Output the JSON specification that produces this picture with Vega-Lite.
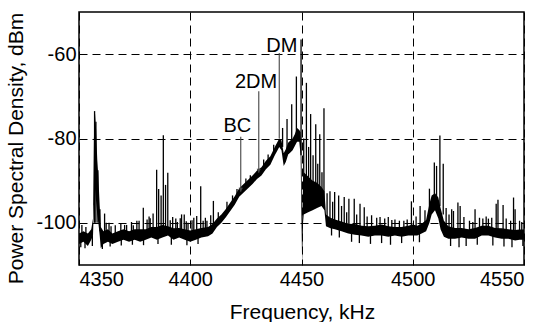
{
  "$schema": "https://vega.github.io/schema/vega-lite/v6.json",
  "width": 445,
  "height": 253,
  "autosize": {"type": "none"},
  "padding": {"left": 79, "top": 12, "right": 26, "bottom": 57},
  "background": "white",
  "config": {
    "font": "Liberation Sans",
    "view": {"stroke": "black", "strokeWidth": 1.5},
    "axis": {
      "grid": true,
      "gridColor": "black",
      "gridDash": [8, 5],
      "gridWidth": 1,
      "gridOpacity": 1,
      "domain": false,
      "ticks": false,
      "labelFont": "Liberation Sans",
      "labelFontSize": 20,
      "labelColor": "black",
      "labelExpr": "'' + datum.value",
      "titleFont": "Liberation Sans",
      "titleFontSize": 21,
      "titleFontWeight": "normal",
      "titleColor": "black"
    }
  },
  "datasets": {
    "band": [
      {"f": 4350, "lo": -105, "hi": -102.5},
      {"f": 4352, "lo": -104.5, "hi": -102},
      {"f": 4354, "lo": -105.5, "hi": -102.5},
      {"f": 4355.5, "lo": -104, "hi": -101.5},
      {"f": 4356.3, "lo": -103, "hi": -99},
      {"f": 4356.7, "lo": -96, "hi": -80},
      {"f": 4357.2, "lo": -92, "hi": -74},
      {"f": 4357.7, "lo": -95, "hi": -78},
      {"f": 4358.2, "lo": -98, "hi": -85},
      {"f": 4358.7, "lo": -100, "hi": -89},
      {"f": 4359.3, "lo": -103, "hi": -96},
      {"f": 4359.8, "lo": -106, "hi": -101},
      {"f": 4361, "lo": -105, "hi": -102},
      {"f": 4363, "lo": -104.5, "hi": -101.5},
      {"f": 4365, "lo": -105, "hi": -102.5},
      {"f": 4367.5, "lo": -104.5, "hi": -102},
      {"f": 4370, "lo": -104, "hi": -101.5},
      {"f": 4372.5, "lo": -104.5, "hi": -102},
      {"f": 4375, "lo": -104, "hi": -101.5},
      {"f": 4377.5, "lo": -104.5, "hi": -101.5},
      {"f": 4380, "lo": -104, "hi": -101.5},
      {"f": 4382.5, "lo": -103.5, "hi": -101},
      {"f": 4385, "lo": -104, "hi": -101},
      {"f": 4387.5, "lo": -103.5, "hi": -100.5},
      {"f": 4390, "lo": -103, "hi": -100.8},
      {"f": 4392.5, "lo": -104, "hi": -101.3},
      {"f": 4395, "lo": -103.5, "hi": -101.2},
      {"f": 4397.5, "lo": -104, "hi": -101.5},
      {"f": 4400, "lo": -104.5, "hi": -101.8},
      {"f": 4402.5, "lo": -104, "hi": -101.5},
      {"f": 4405, "lo": -103.5, "hi": -101.2},
      {"f": 4408, "lo": -103.2, "hi": -101},
      {"f": 4410, "lo": -102.5, "hi": -100.3},
      {"f": 4412, "lo": -101, "hi": -99},
      {"f": 4414, "lo": -100, "hi": -98},
      {"f": 4416, "lo": -98.7, "hi": -96.7},
      {"f": 4418, "lo": -97.2, "hi": -95.2},
      {"f": 4420, "lo": -95.7, "hi": -93.7},
      {"f": 4422, "lo": -93.8, "hi": -91.8},
      {"f": 4424, "lo": -92.8, "hi": -90.8},
      {"f": 4426, "lo": -91.8, "hi": -89.8},
      {"f": 4428, "lo": -90.8, "hi": -88.8},
      {"f": 4430, "lo": -89.6, "hi": -87.6},
      {"f": 4432, "lo": -88.8, "hi": -86.8},
      {"f": 4434, "lo": -87.3, "hi": -85.3},
      {"f": 4436, "lo": -86.2, "hi": -84.2},
      {"f": 4438, "lo": -84, "hi": -82},
      {"f": 4439, "lo": -83, "hi": -81},
      {"f": 4440, "lo": -82, "hi": -80},
      {"f": 4441, "lo": -82.8, "hi": -80.5},
      {"f": 4442, "lo": -86.5, "hi": -83.5},
      {"f": 4443, "lo": -85.5, "hi": -82.5},
      {"f": 4444, "lo": -83.8, "hi": -81},
      {"f": 4445, "lo": -83.3, "hi": -80.5},
      {"f": 4446, "lo": -82.8, "hi": -80},
      {"f": 4447, "lo": -81.8, "hi": -79},
      {"f": 4448, "lo": -80.8, "hi": -77.5},
      {"f": 4449, "lo": -80.8, "hi": -78},
      {"f": 4449.6, "lo": -84, "hi": -78.5},
      {"f": 4450, "lo": -100, "hi": -85},
      {"f": 4450.3, "lo": -110, "hi": -100},
      {"f": 4450.7, "lo": -100, "hi": -90},
      {"f": 4451, "lo": -98, "hi": -88},
      {"f": 4453, "lo": -97.5, "hi": -89},
      {"f": 4455, "lo": -97, "hi": -90},
      {"f": 4457, "lo": -96.5, "hi": -90.5},
      {"f": 4459, "lo": -96, "hi": -91.5},
      {"f": 4460.3, "lo": -97, "hi": -92.5},
      {"f": 4461, "lo": -100.8, "hi": -98},
      {"f": 4463, "lo": -101.3, "hi": -98.8},
      {"f": 4465, "lo": -101.5, "hi": -99.2},
      {"f": 4468, "lo": -102, "hi": -99.7},
      {"f": 4471, "lo": -102.5, "hi": -100.2},
      {"f": 4474, "lo": -102.8, "hi": -100.3},
      {"f": 4477, "lo": -103, "hi": -100.7},
      {"f": 4480, "lo": -103.3, "hi": -100.8},
      {"f": 4483, "lo": -103, "hi": -100.7},
      {"f": 4486, "lo": -103, "hi": -100.4},
      {"f": 4489, "lo": -103.3, "hi": -100.8},
      {"f": 4492, "lo": -103, "hi": -101},
      {"f": 4495, "lo": -103.3, "hi": -101},
      {"f": 4498, "lo": -103, "hi": -100.7},
      {"f": 4500, "lo": -103, "hi": -100.4},
      {"f": 4502, "lo": -103, "hi": -100.7},
      {"f": 4504, "lo": -102.5, "hi": -100.2},
      {"f": 4506, "lo": -102, "hi": -99.3},
      {"f": 4507.5, "lo": -100, "hi": -95.5},
      {"f": 4508.5, "lo": -98, "hi": -93.5},
      {"f": 4510, "lo": -97, "hi": -93},
      {"f": 4511.5, "lo": -99, "hi": -94},
      {"f": 4512.5, "lo": -101.5, "hi": -96.5},
      {"f": 4514, "lo": -103.3, "hi": -99.5},
      {"f": 4516, "lo": -103.8, "hi": -100.8},
      {"f": 4519, "lo": -103.8, "hi": -101.2},
      {"f": 4522, "lo": -103.5, "hi": -101.2},
      {"f": 4525, "lo": -103.8, "hi": -101.5},
      {"f": 4528, "lo": -103.8, "hi": -101.2},
      {"f": 4531, "lo": -103, "hi": -100.7},
      {"f": 4534, "lo": -103, "hi": -100.7},
      {"f": 4537, "lo": -103.5, "hi": -101.2},
      {"f": 4540, "lo": -103.8, "hi": -101.3},
      {"f": 4543, "lo": -103.8, "hi": -101.5},
      {"f": 4546, "lo": -104.2, "hi": -101.7},
      {"f": 4548, "lo": -104, "hi": -101.6},
      {"f": 4550, "lo": -104, "hi": -101.6}
    ],
    "spikes": [
      {"f": 4357.0, "lo": -100, "hi": -73.5},
      {"f": 4357.6, "lo": -100, "hi": -76},
      {"f": 4358.5, "lo": -100, "hi": -87.5},
      {"f": 4359.4, "lo": -102, "hi": -96.8},
      {"f": 4361.5, "lo": -103, "hi": -97.8},
      {"f": 4363.5, "lo": -103, "hi": -100},
      {"f": 4370.5, "lo": -103, "hi": -100.5},
      {"f": 4376, "lo": -103, "hi": -99.5},
      {"f": 4378.9, "lo": -102.5, "hi": -96.4},
      {"f": 4381.5, "lo": -102.5, "hi": -98.5},
      {"f": 4383.3, "lo": -102.5, "hi": -97.8},
      {"f": 4384.9, "lo": -102, "hi": -87.4},
      {"f": 4385.8, "lo": -102, "hi": -92},
      {"f": 4386.9, "lo": -102, "hi": -93.5},
      {"f": 4387.9, "lo": -102, "hi": -79.2},
      {"f": 4388.9, "lo": -102, "hi": -91},
      {"f": 4389.9, "lo": -102, "hi": -88.1},
      {"f": 4392.1, "lo": -102, "hi": -98.6},
      {"f": 4393.5, "lo": -102, "hi": -99},
      {"f": 4396.1, "lo": -102.5, "hi": -98},
      {"f": 4397.3, "lo": -102.5, "hi": -98},
      {"f": 4399, "lo": -103, "hi": -100},
      {"f": 4402.9, "lo": -102.5, "hi": -98.4},
      {"f": 4404.7, "lo": -102.5, "hi": -91.3},
      {"f": 4407.5, "lo": -102, "hi": -99.5},
      {"f": 4410.4, "lo": -101.5, "hi": -94.8},
      {"f": 4412.6, "lo": -100, "hi": -97.5},
      {"f": 4441.5, "lo": -82, "hi": -77.5},
      {"f": 4443.5, "lo": -84, "hi": -75.4},
      {"f": 4445.6, "lo": -82, "hi": -71.9},
      {"f": 4447.7, "lo": -80, "hi": -65.3},
      {"f": 4449.8, "lo": -84, "hi": -56.5},
      {"f": 4451, "lo": -95, "hi": -80},
      {"f": 4452.2, "lo": -93, "hi": -66.8},
      {"f": 4453.2, "lo": -93, "hi": -82},
      {"f": 4454.1, "lo": -93, "hi": -74.2},
      {"f": 4455.2, "lo": -93, "hi": -84},
      {"f": 4456.4, "lo": -93, "hi": -76.6},
      {"f": 4457.3, "lo": -93, "hi": -86},
      {"f": 4458.2, "lo": -93, "hi": -79},
      {"f": 4459.2, "lo": -93, "hi": -88},
      {"f": 4460.1, "lo": -95, "hi": -72.8},
      {"f": 4461.5, "lo": -99, "hi": -93},
      {"f": 4462.8, "lo": -100, "hi": -92.5},
      {"f": 4464.0, "lo": -100, "hi": -95},
      {"f": 4464.9, "lo": -100, "hi": -92.7},
      {"f": 4466.7, "lo": -100.5, "hi": -93.5},
      {"f": 4468, "lo": -101, "hi": -96},
      {"f": 4469.2, "lo": -101, "hi": -93.9},
      {"f": 4471.3, "lo": -101, "hi": -94.3},
      {"f": 4473.7, "lo": -101.5, "hi": -94.3},
      {"f": 4476.3, "lo": -101.5, "hi": -95.5},
      {"f": 4478.2, "lo": -102, "hi": -96.3},
      {"f": 4481.5, "lo": -102, "hi": -98.2},
      {"f": 4485.3, "lo": -102, "hi": -98.6},
      {"f": 4489, "lo": -102, "hi": -98.6},
      {"f": 4492, "lo": -102, "hi": -99.2},
      {"f": 4496, "lo": -102, "hi": -99.5},
      {"f": 4499.4, "lo": -102, "hi": -94.9},
      {"f": 4501.5, "lo": -102, "hi": -98.5},
      {"f": 4503.3, "lo": -102, "hi": -96},
      {"f": 4505.5, "lo": -101, "hi": -97},
      {"f": 4507.5, "lo": -98, "hi": -91.9},
      {"f": 4509.7, "lo": -96, "hi": -85.7},
      {"f": 4510.7, "lo": -96, "hi": -86.5},
      {"f": 4512.2, "lo": -96, "hi": -79.3},
      {"f": 4513.7, "lo": -98, "hi": -86},
      {"f": 4515, "lo": -102, "hi": -96.5},
      {"f": 4516.3, "lo": -102, "hi": -98},
      {"f": 4517.5, "lo": -102, "hi": -96.8},
      {"f": 4518.3, "lo": -102, "hi": -97.2},
      {"f": 4520.3, "lo": -102, "hi": -95.2},
      {"f": 4521.3, "lo": -102, "hi": -96},
      {"f": 4523, "lo": -102.5, "hi": -98.6},
      {"f": 4528, "lo": -102.5, "hi": -96.8},
      {"f": 4531.5, "lo": -102, "hi": -99},
      {"f": 4534, "lo": -102, "hi": -99},
      {"f": 4537.5, "lo": -102, "hi": -95.5},
      {"f": 4538.3, "lo": -102, "hi": -94.5},
      {"f": 4540.6, "lo": -102, "hi": -95.8},
      {"f": 4542, "lo": -102.5, "hi": -99},
      {"f": 4545.3, "lo": -102.5, "hi": -94},
      {"f": 4546, "lo": -102.5, "hi": -96.8},
      {"f": 4548, "lo": -102.5, "hi": -99.5},
      {"f": 4351.3, "lo": -103, "hi": -100.5},
      {"f": 4353.1, "lo": -103, "hi": -101},
      {"f": 4362.2, "lo": -103, "hi": -100},
      {"f": 4364.4, "lo": -103, "hi": -100.8},
      {"f": 4366.3, "lo": -103, "hi": -100.6},
      {"f": 4368.8, "lo": -103, "hi": -100.2},
      {"f": 4371.4, "lo": -103, "hi": -100.5},
      {"f": 4373.6, "lo": -103, "hi": -99.8},
      {"f": 4374.4, "lo": -103, "hi": -100.6},
      {"f": 4377.0, "lo": -103, "hi": -99.5},
      {"f": 4380.6, "lo": -102, "hi": -99.2},
      {"f": 4382.0, "lo": -102, "hi": -98.9},
      {"f": 4391.0, "lo": -102, "hi": -99.4},
      {"f": 4394.2, "lo": -102, "hi": -99.8},
      {"f": 4395.5, "lo": -102, "hi": -98.9},
      {"f": 4398.2, "lo": -102, "hi": -99.6},
      {"f": 4400.8, "lo": -102, "hi": -99.4},
      {"f": 4401.6, "lo": -102, "hi": -98.8},
      {"f": 4405.8, "lo": -102, "hi": -99.5},
      {"f": 4406.8, "lo": -102, "hi": -98.8},
      {"f": 4409.2, "lo": -101, "hi": -98.2},
      {"f": 4350.8, "lo": -103, "hi": -105.8},
      {"f": 4352.7, "lo": -103, "hi": -106},
      {"f": 4356, "lo": -103, "hi": -105.5},
      {"f": 4360.5, "lo": -103, "hi": -106.2},
      {"f": 4364, "lo": -103, "hi": -105.6},
      {"f": 4369, "lo": -103, "hi": -105.4},
      {"f": 4374, "lo": -103, "hi": -105.2},
      {"f": 4379, "lo": -103, "hi": -105.3},
      {"f": 4385.5, "lo": -102, "hi": -105},
      {"f": 4391.5, "lo": -102, "hi": -105.2},
      {"f": 4398.5, "lo": -102, "hi": -105.3},
      {"f": 4403.5, "lo": -102, "hi": -105},
      {"f": 4416.5, "lo": -97, "hi": -95},
      {"f": 4419, "lo": -95.5, "hi": -93.5},
      {"f": 4421, "lo": -94, "hi": -92},
      {"f": 4425, "lo": -92, "hi": -89.5},
      {"f": 4427, "lo": -91, "hi": -88.7},
      {"f": 4433, "lo": -87.5, "hi": -85},
      {"f": 4435, "lo": -86, "hi": -83.8},
      {"f": 4437.5, "lo": -84, "hi": -81.5},
      {"f": 4470.3, "lo": -101, "hi": -97.5},
      {"f": 4474.8, "lo": -101.5, "hi": -98},
      {"f": 4479.5, "lo": -102, "hi": -98.5},
      {"f": 4483.8, "lo": -102, "hi": -98.8},
      {"f": 4487.4, "lo": -102, "hi": -99},
      {"f": 4490.6, "lo": -102, "hi": -99.3},
      {"f": 4494.0, "lo": -102, "hi": -99.5},
      {"f": 4497.5, "lo": -102, "hi": -99.2},
      {"f": 4525.5, "lo": -102.5, "hi": -99.5},
      {"f": 4527, "lo": -102.5, "hi": -99.8},
      {"f": 4530, "lo": -102, "hi": -98.8},
      {"f": 4533, "lo": -102, "hi": -98.5},
      {"f": 4535.5, "lo": -102, "hi": -98.8},
      {"f": 4544, "lo": -102.5, "hi": -99.5},
      {"f": 4549, "lo": -102.5, "hi": -99.8},
      {"f": 4463.5, "lo": -100, "hi": -103},
      {"f": 4467, "lo": -101, "hi": -103.5},
      {"f": 4472.5, "lo": -101, "hi": -104.5},
      {"f": 4476, "lo": -101.5, "hi": -104.8},
      {"f": 4481, "lo": -102, "hi": -105},
      {"f": 4486, "lo": -102, "hi": -104.8},
      {"f": 4490, "lo": -102, "hi": -105.2},
      {"f": 4495, "lo": -102, "hi": -104.8},
      {"f": 4503, "lo": -102, "hi": -104.6},
      {"f": 4517, "lo": -102, "hi": -105.5},
      {"f": 4520.8, "lo": -102, "hi": -105.8},
      {"f": 4524, "lo": -102, "hi": -105.5},
      {"f": 4529, "lo": -102, "hi": -105.2},
      {"f": 4536, "lo": -102, "hi": -105.4},
      {"f": 4541, "lo": -102, "hi": -105.6},
      {"f": 4544.6, "lo": -102, "hi": -105.8},
      {"f": 4549.5, "lo": -102, "hi": -105.5}
    ],
    "notes": [
      {"label": "BC", "f": 4422.7, "top": -79.6, "bottom": -92.6, "lf": 4421.2, "ly": -78.5, "arrow": true},
      {"label": "2DM", "f": 4430.8, "top": -68.8, "bottom": -88.1, "lf": 4429.6, "ly": -68.1, "arrow": true},
      {"label": "DM", "f": 4440, "top": -59.7, "bottom": -80, "lf": 4441.2, "ly": -59.4, "arrow": false}
    ]
  },
  "layer": [
    {
      "data": {"name": "band"},
      "mark": {"type": "area", "color": "black", "opacity": 1},
      "encoding": {
        "x": {"field": "f", "type": "quantitative", "scale": {"domain": [4350, 4550], "nice": false},
              "axis": {"values": [4350, 4400, 4450, 4500, 4550], "title": "Frequency, kHz", "labelPadding": 4,
                       "titleX": 223, "titleY": 53, "titleBaseline": "alphabetic", "titleAnchor": "middle"}},
        "y": {"field": "hi", "type": "quantitative", "scale": {"domain": [-110, -50], "nice": false},
              "axis": {"values": [-100, -80, -60], "title": "Power Spectral Density, dBm", "labelPadding": 3,
                       "titleX": -63, "titleY": 136, "titleBaseline": "middle", "titleAnchor": "middle"}},
        "y2": {"field": "lo"}
      }
    },
    {
      "data": {"name": "spikes"},
      "mark": {"type": "rule", "color": "black", "strokeWidth": 1.3},
      "encoding": {
        "x": {"field": "f", "type": "quantitative"},
        "y": {"field": "lo", "type": "quantitative"},
        "y2": {"field": "hi"}
      }
    },
    {
      "data": {"name": "notes"},
      "mark": {"type": "rule", "color": "#444444", "strokeWidth": 1.1},
      "encoding": {
        "x": {"field": "f", "type": "quantitative"},
        "y": {"field": "top", "type": "quantitative"},
        "y2": {"field": "bottom"}
      }
    },
    {
      "data": {"name": "notes"},
      "transform": [{"filter": "datum.arrow"}],
      "mark": {"type": "point", "shape": "triangle-down", "filled": true, "color": "#444444", "size": 18, "opacity": 1, "yOffset": -2},
      "encoding": {
        "x": {"field": "f", "type": "quantitative"},
        "y": {"field": "bottom", "type": "quantitative"}
      }
    },
    {
      "data": {"name": "notes"},
      "mark": {"type": "text", "font": "Liberation Sans", "fontSize": 20, "color": "black", "align": "center", "baseline": "alphabetic"},
      "encoding": {
        "x": {"field": "lf", "type": "quantitative"},
        "y": {"field": "ly", "type": "quantitative"},
        "text": {"field": "label"}
      }
    }
  ]
}
